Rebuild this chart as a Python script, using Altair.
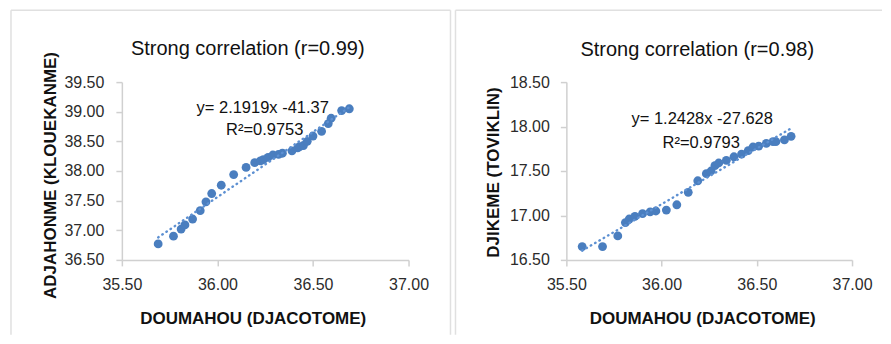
import altair as alt
import pandas as pd

# ---------------- data ----------------
left_x = [35.69, 35.77, 35.81, 35.83, 35.87, 35.91, 35.94, 35.97, 36.02, 36.085,
          36.15, 36.195, 36.225, 36.24, 36.265, 36.29, 36.32, 36.34, 36.39, 36.42,
          36.43, 36.45, 36.47, 36.50, 36.545, 36.58, 36.595, 36.65, 36.69]
left_y = [36.77, 36.90, 37.02, 37.09, 37.19, 37.33, 37.48, 37.62, 37.76, 37.94,
          38.06, 38.14, 38.17, 38.19, 38.23, 38.27, 38.28, 38.30, 38.34, 38.39,
          38.41, 38.43, 38.50, 38.59, 38.67, 38.80, 38.89, 39.02, 39.05]

right_x = [35.583, 35.69, 35.77, 35.81, 35.83, 35.86, 35.90, 35.94, 35.97, 36.025,
           36.08, 36.14, 36.19, 36.235, 36.26, 36.28, 36.30, 36.34, 36.38, 36.42,
           36.455, 36.48, 36.51, 36.55, 36.585, 36.60, 36.645, 36.68]
right_y = [16.65, 16.65, 16.77, 16.92, 16.96, 16.99, 17.02, 17.04, 17.05, 17.06,
           17.12, 17.26, 17.39, 17.47, 17.50, 17.56, 17.59, 17.62, 17.66, 17.69,
           17.73, 17.77, 17.78, 17.81, 17.83, 17.83, 17.85, 17.89]

x_ticks = [35.5, 36.0, 36.5, 37.0]
left_y_ticks = [36.5, 37.0, 37.5, 38.0, 38.5, 39.0, 39.5]
right_y_ticks = [16.5, 17.0, 17.5, 18.0, 18.5]

titles = ["Strong correlation (r=0.99)", "Strong correlation (r=0.98)"]
x_title = "DOUMAHOU (DJACOTOME)"
y_titles = ["ADJAHONME (KLOUEKANME)", "DJIKEME (TOVIKLIN)"]
equations = [["y= 2.1919x -41.37", "R\u00b2=0.9753"],
             ["y= 1.2428x -27.628", "R\u00b2=0.9793"]]

FONT = "Liberation Sans"
DOT = "#4a7ebf"
TREND = "#5d90d2"
FRAME = "#e0e0e0"
AXIS = "#d0d0d0"


def text_layer(label, x, y, size):
    return alt.Chart(alt.Data(values=[{"t": label}])).mark_text(
        font=FONT, fontSize=size, color="#111111", align="center", baseline="alphabetic"
    ).encode(text="t:N", x=alt.value(x), y=alt.value(y))


def panel(xs, ys, y_ticks, title, y_title, eq, width, title_pos, eq_pos,
          y_title_x, y_title_y, x_title_x, y_label_pad, frame_right, right_side):
    df = pd.DataFrame({"x": xs, "y": ys})
    xscale = alt.Scale(domain=[x_ticks[0], x_ticks[-1]], nice=False, zero=False)
    yscale = alt.Scale(domain=[y_ticks[0], y_ticks[-1]], nice=False, zero=False)
    xaxis = alt.Axis(values=x_ticks, format=".2f", title=x_title,
                     labelPadding=11, labelOverlap=False, labelFlush=False,
                     titleX=x_title_x, titleY=64,
                     titleBaseline="alphabetic", titleAnchor="middle")
    yaxis = alt.Axis(values=y_ticks, format=".2f", title=y_title,
                     labelPadding=y_label_pad, labelOverlap=False, labelFlush=False,
                     titleX=y_title_x, titleY=y_title_y,
                     titleBaseline="alphabetic", titleAngle=-90)

    base = alt.Chart(df)
    pts = base.mark_circle(size=78, opacity=1, color=DOT).encode(
        x=alt.X("x:Q", scale=xscale, axis=xaxis),
        y=alt.Y("y:Q", scale=yscale, axis=yaxis),
    )
    trend = base.transform_regression("x", "y").mark_line(
        color=TREND, strokeWidth=2.4, strokeDash=[0.5, 4.5], strokeCap="round"
    ).encode(x=alt.X("x:Q", axis=xaxis), y=alt.Y("y:Q", axis=yaxis))

    ttl = text_layer(title, title_pos[0], title_pos[1], 20)
    eq1 = text_layer(eq[0], eq_pos[0], eq_pos[1], 16.5)
    eq2 = text_layer(eq[1], eq_pos[2], eq_pos[3], 16.5)

    one = alt.Data(values=[{"k": 1}])
    fl = alt.Chart(one).mark_rule(color=FRAME, strokeWidth=1.5).encode(
        x=alt.value(-111), y=alt.value(-72), y2=alt.value(253))
    ft = alt.Chart(one).mark_rule(color=FRAME, strokeWidth=1.5).encode(
        x=alt.value(-111), x2=alt.value(frame_right), y=alt.value(-72))
    layers = [fl, ft]
    if right_side:
        fr = alt.Chart(one).mark_rule(color=FRAME, strokeWidth=1.5).encode(
            x=alt.value(frame_right), y=alt.value(-72), y2=alt.value(253))
        layers.append(fr)

    return alt.layer(*layers, pts, trend, ttl, eq1, eq2).properties(
        width=width, height=178,
    )


left = panel(left_x, left_y, left_y_ticks, titles[0], y_titles[0], equations[0],
             287, (126, -27), (141, 31, 143, 53), -66, 93, 131, 12, 329, True)
right = panel(right_x, right_y, right_y_ticks, titles[1], y_titles[1], equations[1],
              286, (131, -26), (136, 42, 135, 66), -68, 90, 136, 11, 316, False)

chart = alt.hconcat(left, right, spacing=3).properties(
    padding={"left": 2, "top": 1, "right": 0, "bottom": 0},
    background="white",
).configure_view(stroke=None).configure_axis(
    grid=False, domainColor=AXIS, tickColor=AXIS, tickSize=6, domainWidth=1.5,
    tickWidth=1.5, labelFont=FONT, labelFontSize=16, labelColor="#2b2b2b",
    labelOverlap=False,
    titleFont=FONT, titleFontSize=17, titleFontWeight="bold", titleColor="#111111",
)

chart.save("out.html", embed_options={"renderer": "svg", "actions": False})
